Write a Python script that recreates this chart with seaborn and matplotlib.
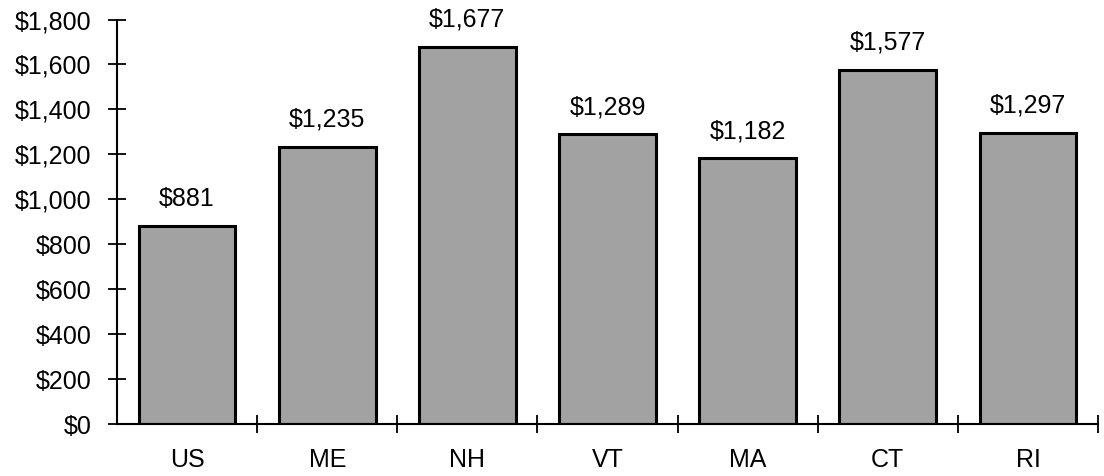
import matplotlib
matplotlib.use("Agg")
import matplotlib.pyplot as plt
import seaborn as sns
import pandas as pd
from matplotlib.ticker import FuncFormatter, FixedLocator

states = ["US", "ME", "NH", "VT", "MA", "CT", "RI"]
values = [881, 1235, 1677, 1289, 1182, 1577, 1297]
yticks = list(range(0, 1801, 200))

sns.set_theme(style="white")
plt.rcParams['font.family'] = ['Liberation Sans', 'DejaVu Sans']
plt.rcParams['text.color'] = 'black'
plt.rcParams['xtick.color'] = 'black'
plt.rcParams['ytick.color'] = 'black'

df = pd.DataFrame({"state": states, "value": values})

fig = plt.figure(figsize=(11.04, 4.76), dpi=100)
ax = fig.add_axes([0.106, 0.109, 0.8886, 0.850])
sns.barplot(data=df, x="state", y="value", color="#a2a2a2", saturation=1,
            edgecolor="black", linewidth=2.2, width=0.69, ax=ax)

ax.set_ylim(0, 1800)
ax.set_xlim(-0.5, len(states) - 0.5)
ax.set_yticks(yticks)
ax.yaxis.set_major_formatter(FuncFormatter(lambda v, p: f"${v:,.0f}"))
ax.set_xlabel("")
ax.set_ylabel("")

for c in ax.containers:
    ax.bar_label(c, labels=[f"${v:,.0f}" for v in values], padding=11,
                 fontsize=18, color="black")

for s in ["top", "right"]:
    ax.spines[s].set_visible(False)
for s in ["left", "bottom"]:
    ax.spines[s].set_color("black")
    ax.spines[s].set_linewidth(1.5)

ax.tick_params(axis="y", which="major", direction="inout", length=13, width=1.3,
               color="black", labelsize=18, labelcolor="black", left=True, pad=12)
ax.tick_params(axis="x", which="major", length=0, labelsize=18,
               labelcolor="black", pad=17)
ax.xaxis.set_minor_locator(FixedLocator([i + 0.5 for i in range(len(states))]))
ax.tick_params(axis="x", which="minor", direction="inout", length=13, width=1.3,
               color="black", bottom=True)

fig.savefig("out.png", dpi=100)
